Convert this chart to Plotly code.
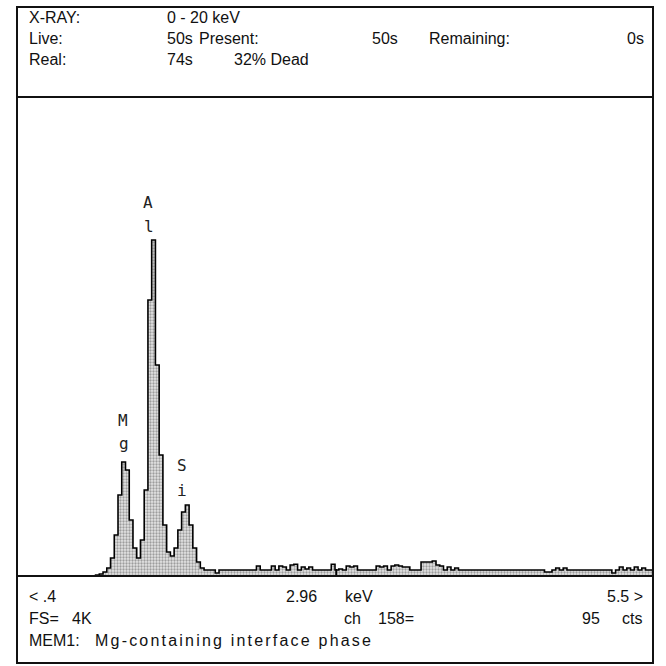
import plotly.graph_objects as go

# ---- spectrum data ----
E_START = 0.4        # keV, left edge of display
E_END = 5.5          # keV, right edge of display
CH_WIDTH = 0.03      # keV per displayed channel
FULL_SCALE = 4096    # FS = 4K counts
CURSOR_KEV = 2.96
CURSOR_CTS = 60

counts = [
    0, 0, 0, 0, 0, 0, 0, 0, 0, 0,          # 0-9
    0, 0, 0, 0, 0, 0, 0, 0, 0, 0,          # 10-19
    0, 9, 17, 34, 68, 154, 350, 693, 975, 906,   # 20-29  (Mg)
    479, 239, 154, 308, 735, 2360, 2873, 1804, 1035, 436,  # 30-39 (Al)
    205, 171, 239, 393, 547, 607, 436, 239, 120, 68,  # 40-49 (Si)
    51, 51, 51, 26, 51, 51, 51, 51, 51, 51,  # 50-59
    51, 51, 51, 51, 85, 51, 51, 51, 85, 51,  # 60-69
    85, 77, 51, 94, 100, 51, 77, 60, 77, 51,  # 70-79
    51, 51, 51, 51, 100, 51, 60, 51, 85, 77,  # 80-89
    85, 51, 51, 51, 51, 51, 85, 77, 85, 51,  # 90-99
    85, 94, 85, 77, 77, 51, 51, 51, 120, 120,  # 100-109
    120, 128, 94, 85, 51, 77, 51, 68, 51, 51,  # 110-119
    51, 51, 51, 51, 51, 51, 51, 51, 51, 51,  # 120-129
    51, 51, 51, 51, 51, 51, 51, 51, 51, 51,  # 130-139
    51, 34, 34, 51, 68, 51, 68, 51, 51, 51,  # 140-149
    51, 51, 51, 51, 51, 51, 51, 51, 51, 26,  # 150-159
    51, 77, 51, 68, 51, 77, 51, 68, 51, 51,  # 160-169
]

# peak labels: each element symbol written as two stacked characters
label_chars = ["A", "l", "M", "g", "S", "i"]
label_kev = [1.45, 1.455, 1.25, 1.255, 1.72, 1.725]
label_cts = [3190, 2990, 1334, 1129, 941, 735]

header_rows = [
    [("X-RAY:", 27), ("0 - 20 keV", 165)],
    [("Live:", 27), ("50s", 165), ("Present:", 197), ("50s", 370), ("Remaining:", 427), ("0s", 625)],
    [("Real:", 27), ("74s", 165), ("32% Dead", 232)],
]
footer_rows = [
    [("< .4", 27), ("2.96", 284), ("keV", 343), ("5.5 >", 605)],
    [("FS=", 27), ("4K", 70), ("ch", 342), ("158=", 376), ("95", 580), ("cts", 620)],
    [("MEM1:", 27), ("Mg-containing interface phase", 93)],
]

# ---- geometry ----
W = H = 666
BOX_L, BOX_R, BOX_T, BOX_B = 17, 653, 7, 663
HDR_SEP, FTR_SEP = 97, 576
HDR_Y = [18, 39, 60]
FTR_Y = [596, 618, 640]

def px(x):
    return x / W

def py(y):
    return 1 - y / H

x_edges = [E_START + i * CH_WIDTH for i in range(len(counts) + 1)]
y_steps = counts + [counts[-1]]

fig = go.Figure()
fig.add_trace(go.Scatter(
    x=x_edges, y=y_steps, mode="lines", line=dict(color="black", width=1.6, shape="hv"),
    fill="tozeroy", fillcolor="#c8c8c8",
    fillpattern=dict(shape=".", fgcolor="#555555", bgcolor="#e4e4e4", size=3, solidity=0.45),
    hoverinfo="skip", showlegend=False,
))

for ch, xk, yc in zip(label_chars, label_kev, label_cts):
    fig.add_annotation(x=xk, y=yc, text=ch, showarrow=False,
                       font=dict(family="DejaVu Sans Mono", size=16, color="#222"),
                       xanchor="center", yanchor="middle")

# cursor marker
fig.add_shape(type="line", x0=CURSOR_KEV, x1=CURSOR_KEV, y0=0, y1=CURSOR_CTS,
              xref="x", yref="y", line=dict(color="black", width=2))

shapes = [
    dict(type="rect", x0=px(BOX_L), x1=px(BOX_R), y0=py(BOX_B), y1=py(BOX_T)),
    dict(type="line", x0=px(BOX_L), x1=px(BOX_R), y0=py(HDR_SEP), y1=py(HDR_SEP)),
    dict(type="line", x0=px(BOX_L), x1=px(BOX_R), y0=py(FTR_SEP), y1=py(FTR_SEP)),
]
for s in shapes:
    s.update(xref="paper", yref="paper", line=dict(color="#111", width=2))
    fig.add_shape(**s)

font = dict(family="Liberation Sans, Arial, sans-serif", size=16, color="#111")
for rows, ys in ((header_rows, HDR_Y), (footer_rows, FTR_Y)):
    for row, yy in zip(rows, ys):
        for txt, xx in row:
            shown = txt
            if txt.startswith("Mg-"):
                shown = '<span style="letter-spacing:2.2px">' + txt + '</span>'
            fig.add_annotation(x=px(xx), y=py(yy), xref="paper", yref="paper", text=shown,
                               showarrow=False, xanchor="left", yanchor="middle", font=font)

fig.update_layout(
    width=W, height=H, margin=dict(l=0, r=0, t=0, b=0),
    paper_bgcolor="white", plot_bgcolor="white",
    xaxis=dict(domain=[px(BOX_L), px(BOX_R)], range=[E_START, E_END], visible=False),
    yaxis=dict(domain=[py(FTR_SEP), py(HDR_SEP)], range=[0, FULL_SCALE], visible=False),
)
fig.write_html("out.html", config={"displayModeBar": False},
               post_script="document.body.style.margin='0';")
